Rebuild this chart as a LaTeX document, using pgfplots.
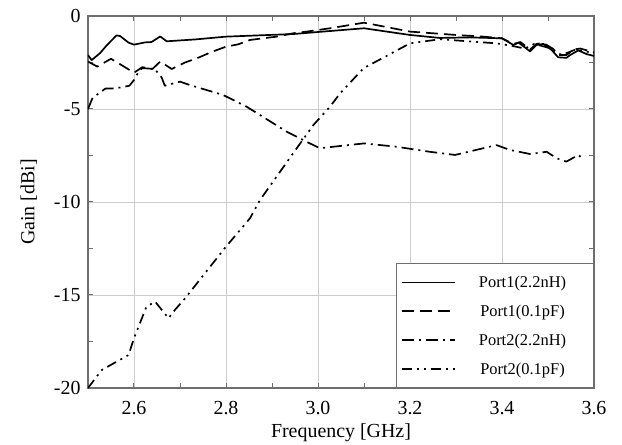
\documentclass[border=0pt]{standalone}
\usepackage{pgfplots}
\pgfplotsset{compat=1.18}
\usepackage{fontspec}
\setmainfont{Liberation Serif}
\definecolor{frame}{RGB}{110,110,110}
\definecolor{gridc}{RGB}{205,205,205}
\begin{document}
\begin{tikzpicture}
\begin{axis}[
  scale only axis, width=506bp, height=372bp,
  at={(0,0)}, anchor=south west,
  xmin=2.5, xmax=3.6, ymin=-20, ymax=0,
  xtick={2.6,2.8,3.0,3.2,3.4,3.6},
  xticklabels={2.6,2.8,3.0,3.2,3.4,3.6},
  minor xtick={2.7,2.9,3.1,3.3,3.5},
  ytick={-20,-15,-10,-5,0},
  yticklabels={-20,-15,-10,-5,0},
  minor ytick={-17.5,-12.5,-7.5,-2.5},
  grid=major,
  major grid style={gridc, line width=0.9bp},
  tick align=inside,
  major tick length=5bp, minor tick length=5bp,
  axis line style={frame, line width=1.6bp},
  every tick/.style={frame, line width=1bp},
  ticklabel style={font=\fontsize{20}{20}\selectfont},
  xticklabel style={yshift=-10bp},
  yticklabel style={xshift=-4bp},
  xlabel={Frequency [GHz]}, ylabel={Gain [dBi]},
  label style={font=\fontsize{20}{20}\selectfont},
  xlabel style={yshift=-2bp},
  ylabel style={yshift=10bp},
  legend image code/.code={\draw[#1] (0bp,0bp) -- (53bp,0bp);},
  legend style={at={(1,0)}, anchor=south east, draw=frame, line width=1bp,
    fill=white, font=\fontsize{16.5}{16.5}\selectfont,
    inner xsep=4bp, inner ysep=9bp, row sep=10bp,
    nodes={inner sep=3bp}},
  legend cell align=left,
  every axis plot/.append style={black, line width=1.7bp, line join=round},
]
% Port1 (2.2nH)
\addplot[solid] coordinates {
(2.5,-2.1)(2.508,-2.37)(2.526,-2.0)(2.54,-1.6)(2.562,-1.04)(2.57,-1.08)
(2.588,-1.43)(2.6,-1.54)(2.624,-1.42)(2.638,-1.4)(2.657,-1.1)(2.671,-1.36)
(2.733,-1.26)(2.8,-1.11)(2.946,-0.97)(3.02,-0.82)(3.1,-0.66)(3.2,-1.02)
(3.265,-1.18)(3.33,-1.15)(3.4,-1.2)(3.425,-1.56)(3.436,-1.43)(3.461,-1.9)
(3.475,-1.56)(3.49,-1.5)(3.508,-1.83)(3.522,-2.22)(3.54,-2.25)(3.548,-2.1)
(3.566,-1.85)(3.584,-2.05)(3.6,-2.15)};
\addlegendentry{\makebox[128bp]{Port1(2.2nH)}}
% Port1 (0.1pF)
\addplot[dash pattern=on 12bp off 6bp] coordinates {
(2.5,-2.45)(2.52,-2.72)(2.55,-2.3)(2.575,-2.67)(2.6,-3.05)(2.618,-2.75)
(2.64,-2.85)(2.657,-2.45)(2.682,-2.85)(2.711,-2.5)(2.74,-2.24)(2.77,-1.92)
(2.8,-1.65)(2.827,-1.52)(2.852,-1.29)(2.88,-1.2)(2.91,-1.11)(2.946,-0.93)
(2.975,-0.84)(3.026,-0.66)(3.1,-0.36)(3.2,-0.84)(3.3,-1.02)(3.36,-1.11)
(3.4,-1.2)(3.425,-1.5)(3.44,-1.4)(3.461,-1.8)(3.475,-1.5)(3.49,-1.45)
(3.51,-1.75)(3.525,-2.1)(3.54,-2.1)(3.556,-1.8)(3.57,-1.75)(3.585,-1.85)(3.6,-1.95)};
\addlegendentry{\makebox[128bp]{Port1(0.1pF)}}
% Port2 (2.2nH)
\addplot[dash pattern=on 12bp off 5bp on 2bp off 5bp] coordinates {
(2.5,-5.0)(2.51,-4.4)(2.538,-3.9)(2.56,-3.89)(2.59,-3.75)(2.6,-3.44)
(2.61,-3.0)(2.618,-2.8)(2.645,-2.85)(2.66,-3.3)(2.667,-3.75)(2.7,-3.53)
(2.72,-3.7)(2.74,-3.85)(2.77,-4.07)(2.794,-4.25)(2.845,-4.88)(2.932,-6.22)
(2.975,-6.76)(3.004,-7.11)(3.033,-7.03)(3.1,-6.85)(3.171,-7.03)(3.243,-7.3)
(3.298,-7.47)(3.388,-6.94)(3.417,-7.2)(3.461,-7.42)(3.497,-7.3)(3.519,-7.65)
(3.54,-7.83)(3.566,-7.47)(3.577,-7.7)};
\addlegendentry{\makebox[128bp]{Port2(2.2nH)}}
% Port2 (0.1pF)
\addplot[dash pattern=on 10bp off 5bp on 2bp off 5bp on 2bp off 5bp] coordinates {
(2.5,-20.0)(2.53,-19.03)(2.588,-18.23)(2.6,-17.33)(2.627,-15.63)(2.646,-15.36)
(2.675,-16.25)(2.689,-15.8)(2.711,-15.18)(2.8,-12.4)(2.852,-10.88)(2.874,-9.89)
(2.946,-7.38)(2.99,-5.86)(3.026,-4.88)(3.048,-4.16)(3.099,-2.81)(3.2,-1.47)
(3.265,-1.25)(3.388,-1.47)(3.42,-1.6)(3.45,-1.75)(3.47,-1.5)(3.5,-1.7)
(3.53,-2.1)(3.56,-1.8)(3.6,-2.0)};
\addlegendentry{\makebox[128bp]{Port2(0.1pF)}}
\end{axis}
\pgfresetboundingbox
\path[use as bounding box] (-88bp,-57bp) rectangle (534bp,388bp);
\end{tikzpicture}
\end{document}
